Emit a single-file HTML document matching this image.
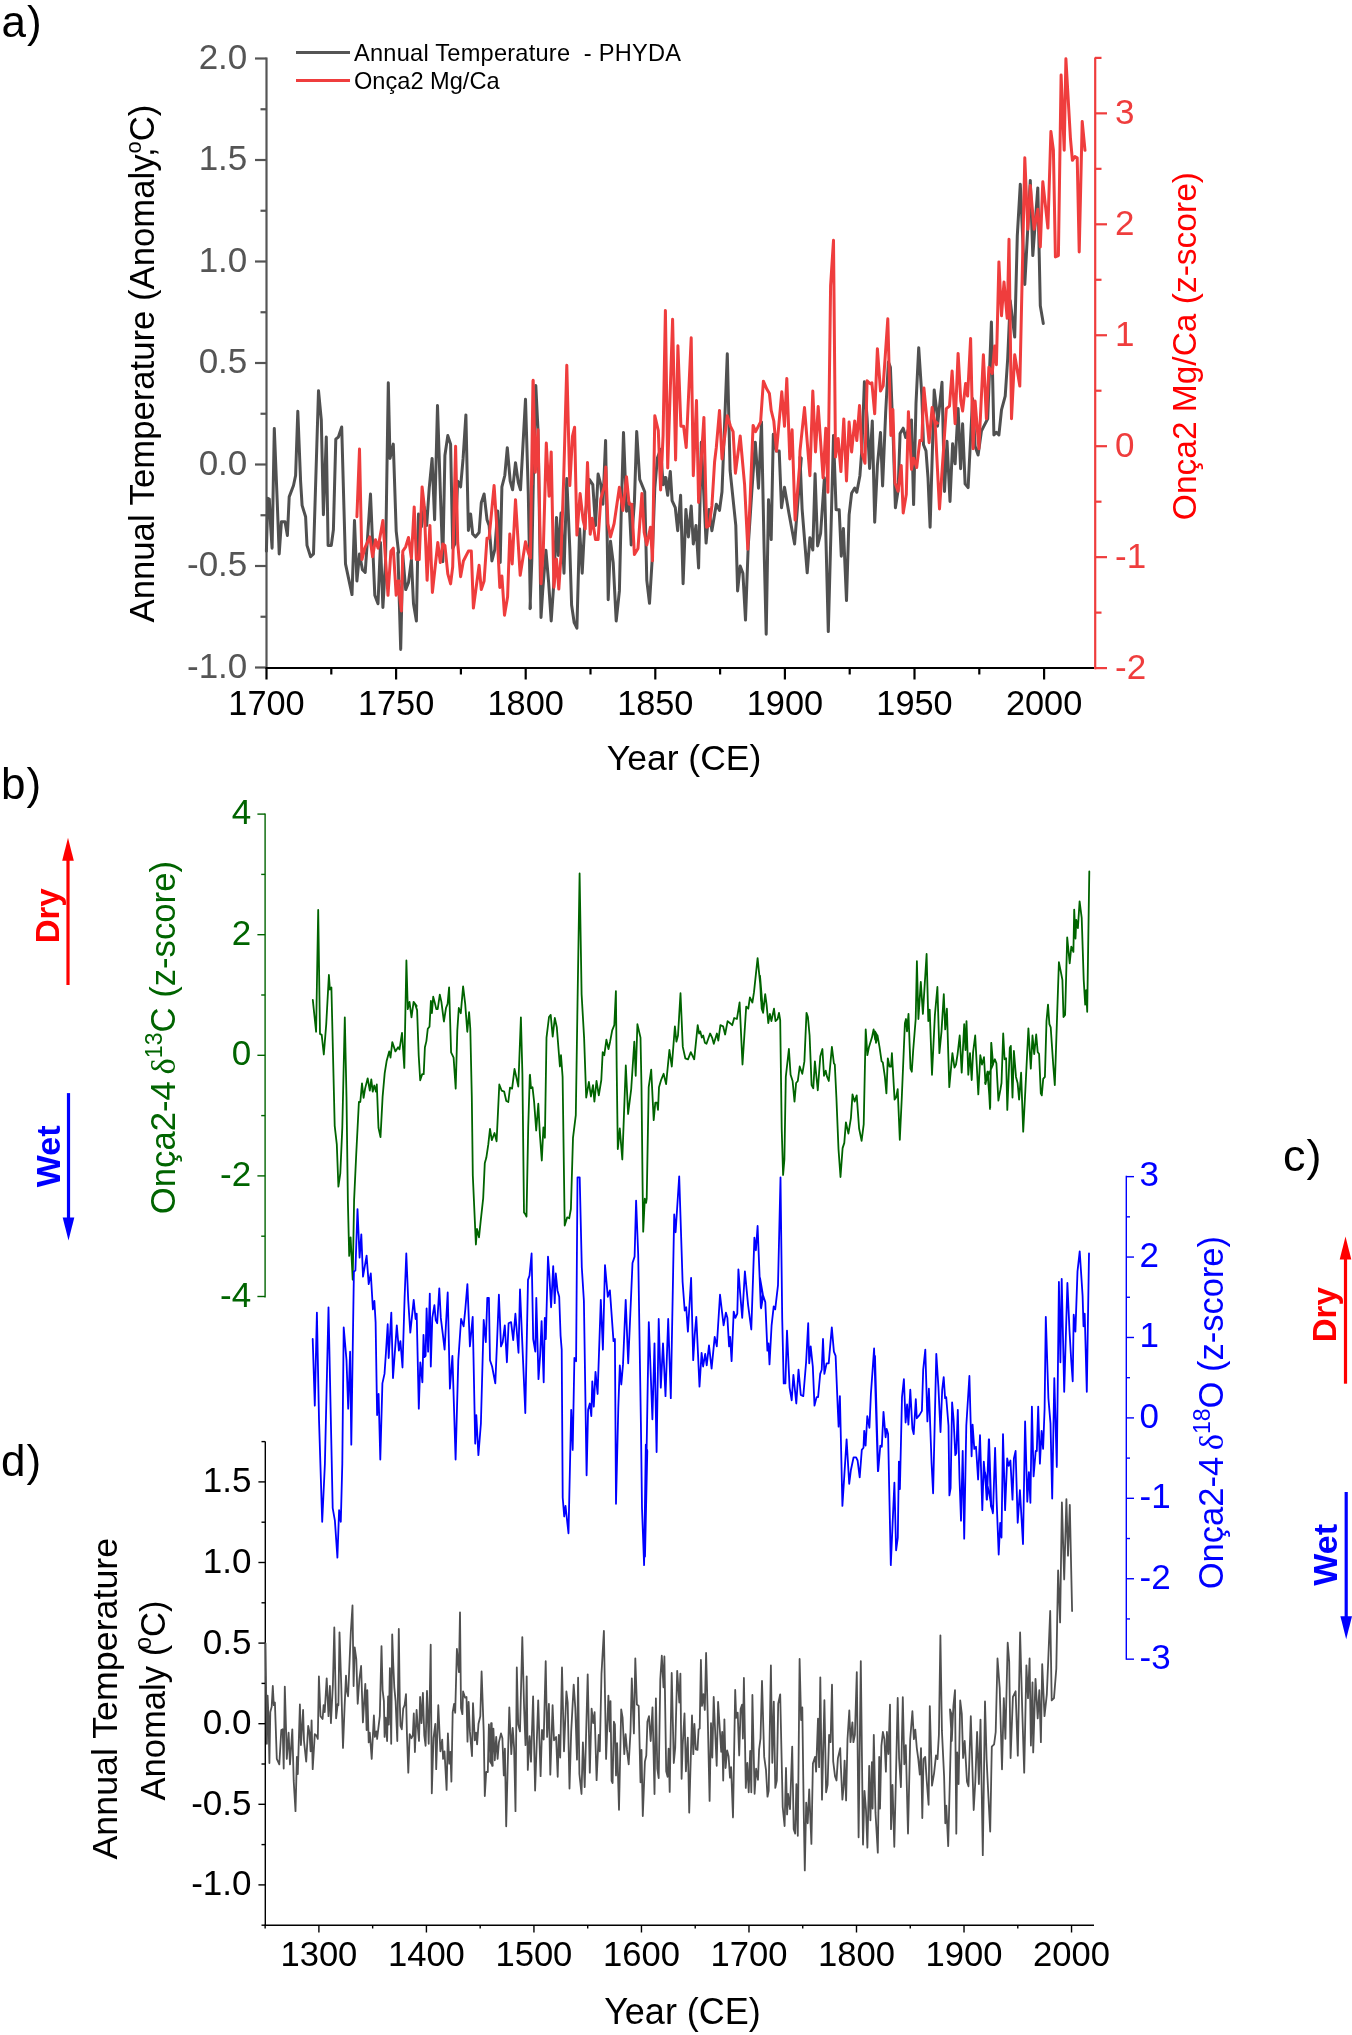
<!DOCTYPE html>
<html><head><meta charset="utf-8"><style>
html,body{margin:0;padding:0;background:#fff;}
svg{display:block;will-change:transform;}
</style></head><body>
<svg width="1352" height="2035" viewBox="0 0 1352 2035" font-family="Liberation Sans, sans-serif" xml:space="preserve">
<rect x="0" y="0" width="1352" height="2035" fill="#fff"/>
<text x="1.5" y="36.5" font-size="44" fill="#000" text-anchor="start" font-weight="normal">a<tspan dx="1">)</tspan></text>
<line x1="266.50" y1="57.50" x2="266.50" y2="668.50" stroke="#555555" stroke-width="2.2"/>
<line x1="255.00" y1="58.50" x2="266.50" y2="58.50" stroke="#555555" stroke-width="2.2"/>
<text x="247.3" y="68.8" font-size="35" fill="#555555" text-anchor="end" font-weight="normal">2.0</text>
<line x1="260.50" y1="109.25" x2="266.50" y2="109.25" stroke="#555555" stroke-width="2.2"/>
<line x1="255.00" y1="160.00" x2="266.50" y2="160.00" stroke="#555555" stroke-width="2.2"/>
<text x="247.3" y="170.3" font-size="35" fill="#555555" text-anchor="end" font-weight="normal">1.5</text>
<line x1="260.50" y1="210.75" x2="266.50" y2="210.75" stroke="#555555" stroke-width="2.2"/>
<line x1="255.00" y1="261.50" x2="266.50" y2="261.50" stroke="#555555" stroke-width="2.2"/>
<text x="247.3" y="271.8" font-size="35" fill="#555555" text-anchor="end" font-weight="normal">1.0</text>
<line x1="260.50" y1="312.25" x2="266.50" y2="312.25" stroke="#555555" stroke-width="2.2"/>
<line x1="255.00" y1="363.00" x2="266.50" y2="363.00" stroke="#555555" stroke-width="2.2"/>
<text x="247.3" y="373.3" font-size="35" fill="#555555" text-anchor="end" font-weight="normal">0.5</text>
<line x1="260.50" y1="413.75" x2="266.50" y2="413.75" stroke="#555555" stroke-width="2.2"/>
<line x1="255.00" y1="464.50" x2="266.50" y2="464.50" stroke="#555555" stroke-width="2.2"/>
<text x="247.3" y="474.8" font-size="35" fill="#555555" text-anchor="end" font-weight="normal">0.0</text>
<line x1="260.50" y1="515.25" x2="266.50" y2="515.25" stroke="#555555" stroke-width="2.2"/>
<line x1="255.00" y1="566.00" x2="266.50" y2="566.00" stroke="#555555" stroke-width="2.2"/>
<text x="247.3" y="576.3" font-size="35" fill="#555555" text-anchor="end" font-weight="normal">-0.5</text>
<line x1="260.50" y1="616.75" x2="266.50" y2="616.75" stroke="#555555" stroke-width="2.2"/>
<line x1="255.00" y1="667.50" x2="266.50" y2="667.50" stroke="#555555" stroke-width="2.2"/>
<text x="247.3" y="677.8" font-size="35" fill="#555555" text-anchor="end" font-weight="normal">-1.0</text>
<text x="154.4" y="363.5" font-size="34.7" fill="#000" text-anchor="middle" font-weight="normal" transform="rotate(-90 154.4 363.5)">Annual Temperature (Anomaly,<tspan font-size="22" dy="-13.5" dx="-6">o</tspan><tspan dy="13.5">C)</tspan></text>
<line x1="265.50" y1="668.00" x2="1094.00" y2="668.00" stroke="#000" stroke-width="2.2"/>
<line x1="266.50" y1="668.00" x2="266.50" y2="679.50" stroke="#000" stroke-width="2.2"/>
<text x="266.5" y="714.5" font-size="34.3" fill="#000" text-anchor="middle" font-weight="normal">1700</text>
<line x1="331.30" y1="668.00" x2="331.30" y2="674.50" stroke="#000" stroke-width="2.2"/>
<line x1="396.10" y1="668.00" x2="396.10" y2="679.50" stroke="#000" stroke-width="2.2"/>
<text x="396.1" y="714.5" font-size="34.3" fill="#000" text-anchor="middle" font-weight="normal">1750</text>
<line x1="460.90" y1="668.00" x2="460.90" y2="674.50" stroke="#000" stroke-width="2.2"/>
<line x1="525.70" y1="668.00" x2="525.70" y2="679.50" stroke="#000" stroke-width="2.2"/>
<text x="525.7" y="714.5" font-size="34.3" fill="#000" text-anchor="middle" font-weight="normal">1800</text>
<line x1="590.50" y1="668.00" x2="590.50" y2="674.50" stroke="#000" stroke-width="2.2"/>
<line x1="655.30" y1="668.00" x2="655.30" y2="679.50" stroke="#000" stroke-width="2.2"/>
<text x="655.3" y="714.5" font-size="34.3" fill="#000" text-anchor="middle" font-weight="normal">1850</text>
<line x1="720.10" y1="668.00" x2="720.10" y2="674.50" stroke="#000" stroke-width="2.2"/>
<line x1="784.90" y1="668.00" x2="784.90" y2="679.50" stroke="#000" stroke-width="2.2"/>
<text x="784.9" y="714.5" font-size="34.3" fill="#000" text-anchor="middle" font-weight="normal">1900</text>
<line x1="849.70" y1="668.00" x2="849.70" y2="674.50" stroke="#000" stroke-width="2.2"/>
<line x1="914.50" y1="668.00" x2="914.50" y2="679.50" stroke="#000" stroke-width="2.2"/>
<text x="914.5" y="714.5" font-size="34.3" fill="#000" text-anchor="middle" font-weight="normal">1950</text>
<line x1="979.30" y1="668.00" x2="979.30" y2="674.50" stroke="#000" stroke-width="2.2"/>
<line x1="1044.10" y1="668.00" x2="1044.10" y2="679.50" stroke="#000" stroke-width="2.2"/>
<text x="1044.1" y="714.5" font-size="34.3" fill="#000" text-anchor="middle" font-weight="normal">2000</text>
<text x="684.0" y="769.5" font-size="35.5" fill="#000" text-anchor="middle" font-weight="normal">Year (CE)</text>
<line x1="1095.20" y1="57.50" x2="1095.20" y2="669.20" stroke="#ef3d3d" stroke-width="2.2"/>
<line x1="1095.00" y1="668.10" x2="1107.00" y2="668.10" stroke="#ef3d3d" stroke-width="2.2"/>
<text x="1115.0" y="678.6" font-size="35" fill="#ef3d3d" text-anchor="start" font-weight="normal">-2</text>
<line x1="1095.00" y1="557.15" x2="1107.00" y2="557.15" stroke="#ef3d3d" stroke-width="2.2"/>
<text x="1115.0" y="567.6" font-size="35" fill="#ef3d3d" text-anchor="start" font-weight="normal">-1</text>
<line x1="1095.00" y1="446.20" x2="1107.00" y2="446.20" stroke="#ef3d3d" stroke-width="2.2"/>
<text x="1115.0" y="456.7" font-size="35" fill="#ef3d3d" text-anchor="start" font-weight="normal">0</text>
<line x1="1095.00" y1="335.25" x2="1107.00" y2="335.25" stroke="#ef3d3d" stroke-width="2.2"/>
<text x="1115.0" y="345.8" font-size="35" fill="#ef3d3d" text-anchor="start" font-weight="normal">1</text>
<line x1="1095.00" y1="224.30" x2="1107.00" y2="224.30" stroke="#ef3d3d" stroke-width="2.2"/>
<text x="1115.0" y="234.8" font-size="35" fill="#ef3d3d" text-anchor="start" font-weight="normal">2</text>
<line x1="1095.00" y1="113.35" x2="1107.00" y2="113.35" stroke="#ef3d3d" stroke-width="2.2"/>
<text x="1115.0" y="123.8" font-size="35" fill="#ef3d3d" text-anchor="start" font-weight="normal">3</text>
<line x1="1095.00" y1="612.62" x2="1101.50" y2="612.62" stroke="#ef3d3d" stroke-width="2.2"/>
<line x1="1095.00" y1="501.68" x2="1101.50" y2="501.68" stroke="#ef3d3d" stroke-width="2.2"/>
<line x1="1095.00" y1="390.72" x2="1101.50" y2="390.72" stroke="#ef3d3d" stroke-width="2.2"/>
<line x1="1095.00" y1="279.77" x2="1101.50" y2="279.77" stroke="#ef3d3d" stroke-width="2.2"/>
<line x1="1095.00" y1="168.82" x2="1101.50" y2="168.82" stroke="#ef3d3d" stroke-width="2.2"/>
<line x1="1095.00" y1="57.88" x2="1101.50" y2="57.88" stroke="#ef3d3d" stroke-width="2.2"/>
<text x="1196.4" y="346.1" font-size="33.5" fill="#ff0000" text-anchor="middle" font-weight="normal" transform="rotate(-90 1196.4 346.1)">Onça2 Mg/Ca (z-score)</text>
<line x1="296.00" y1="52.60" x2="350.00" y2="52.60" stroke="#555555" stroke-width="3"/>
<line x1="296.00" y1="80.60" x2="350.00" y2="80.60" stroke="#ef3d3d" stroke-width="3"/>
<text x="354.0" y="60.6" font-size="23.6" fill="#000" text-anchor="start" font-weight="normal" textLength="327">Annual Temperature &#160;- PHYDA</text>
<text x="354.0" y="88.6" font-size="23.6" fill="#000" text-anchor="start" font-weight="normal">Onça2 Mg/Ca</text>
<text x="1.0" y="799.0" font-size="44" fill="#000" text-anchor="start" font-weight="normal">b<tspan dx="1">)</tspan></text>
<line x1="265.10" y1="813.50" x2="265.10" y2="1297.50" stroke="#006400" stroke-width="1.4"/>
<line x1="257.40" y1="814.10" x2="265.10" y2="814.10" stroke="#006400" stroke-width="1.4"/>
<text x="251.2" y="824.1" font-size="35" fill="#006400" text-anchor="end" font-weight="normal">4</text>
<line x1="257.40" y1="934.70" x2="265.10" y2="934.70" stroke="#006400" stroke-width="1.4"/>
<text x="251.2" y="944.7" font-size="35" fill="#006400" text-anchor="end" font-weight="normal">2</text>
<line x1="257.40" y1="1055.30" x2="265.10" y2="1055.30" stroke="#006400" stroke-width="1.4"/>
<text x="251.2" y="1065.3" font-size="35" fill="#006400" text-anchor="end" font-weight="normal">0</text>
<line x1="257.40" y1="1175.90" x2="265.10" y2="1175.90" stroke="#006400" stroke-width="1.4"/>
<text x="251.2" y="1185.9" font-size="35" fill="#006400" text-anchor="end" font-weight="normal">-2</text>
<line x1="257.40" y1="1296.50" x2="265.10" y2="1296.50" stroke="#006400" stroke-width="1.4"/>
<text x="251.2" y="1306.5" font-size="35" fill="#006400" text-anchor="end" font-weight="normal">-4</text>
<line x1="261.20" y1="874.40" x2="265.10" y2="874.40" stroke="#006400" stroke-width="1.4"/>
<line x1="261.20" y1="995.00" x2="265.10" y2="995.00" stroke="#006400" stroke-width="1.4"/>
<line x1="261.20" y1="1115.60" x2="265.10" y2="1115.60" stroke="#006400" stroke-width="1.4"/>
<line x1="261.20" y1="1236.20" x2="265.10" y2="1236.20" stroke="#006400" stroke-width="1.4"/>
<text x="175.5" y="1037.6" font-size="34.7" fill="#006400" text-anchor="middle" font-weight="normal" transform="rotate(-90 175.5 1037.6)">Onça2-4 <tspan font-family="Liberation Serif, serif" dx="-3">δ</tspan><tspan font-size="23" dy="-13">13</tspan><tspan dy="13">C (z-score)</tspan></text>
<text x="1283.0" y="1171.0" font-size="45" fill="#000" text-anchor="start" font-weight="normal">c<tspan dx="1">)</tspan></text>
<line x1="1126.30" y1="1175.80" x2="1126.30" y2="1659.70" stroke="#0000ff" stroke-width="1.4"/>
<line x1="1126.30" y1="1659.16" x2="1134.00" y2="1659.16" stroke="#0000ff" stroke-width="1.4"/>
<text x="1139.5" y="1669.0" font-size="35" fill="#0000ff" text-anchor="start" font-weight="normal">-3</text>
<line x1="1126.30" y1="1578.74" x2="1134.00" y2="1578.74" stroke="#0000ff" stroke-width="1.4"/>
<text x="1139.5" y="1588.5" font-size="35" fill="#0000ff" text-anchor="start" font-weight="normal">-2</text>
<line x1="1126.30" y1="1498.32" x2="1134.00" y2="1498.32" stroke="#0000ff" stroke-width="1.4"/>
<text x="1139.5" y="1508.1" font-size="35" fill="#0000ff" text-anchor="start" font-weight="normal">-1</text>
<line x1="1126.30" y1="1417.90" x2="1134.00" y2="1417.90" stroke="#0000ff" stroke-width="1.4"/>
<text x="1139.5" y="1427.7" font-size="35" fill="#0000ff" text-anchor="start" font-weight="normal">0</text>
<line x1="1126.30" y1="1337.48" x2="1134.00" y2="1337.48" stroke="#0000ff" stroke-width="1.4"/>
<text x="1139.5" y="1347.3" font-size="35" fill="#0000ff" text-anchor="start" font-weight="normal">1</text>
<line x1="1126.30" y1="1257.06" x2="1134.00" y2="1257.06" stroke="#0000ff" stroke-width="1.4"/>
<text x="1139.5" y="1266.9" font-size="35" fill="#0000ff" text-anchor="start" font-weight="normal">2</text>
<line x1="1126.30" y1="1176.64" x2="1134.00" y2="1176.64" stroke="#0000ff" stroke-width="1.4"/>
<text x="1139.5" y="1186.4" font-size="35" fill="#0000ff" text-anchor="start" font-weight="normal">3</text>
<line x1="1126.30" y1="1618.95" x2="1130.00" y2="1618.95" stroke="#0000ff" stroke-width="1.4"/>
<line x1="1126.30" y1="1538.53" x2="1130.00" y2="1538.53" stroke="#0000ff" stroke-width="1.4"/>
<line x1="1126.30" y1="1458.11" x2="1130.00" y2="1458.11" stroke="#0000ff" stroke-width="1.4"/>
<line x1="1126.30" y1="1377.69" x2="1130.00" y2="1377.69" stroke="#0000ff" stroke-width="1.4"/>
<line x1="1126.30" y1="1297.27" x2="1130.00" y2="1297.27" stroke="#0000ff" stroke-width="1.4"/>
<line x1="1126.30" y1="1216.85" x2="1130.00" y2="1216.85" stroke="#0000ff" stroke-width="1.4"/>
<text x="1222.7" y="1412.6" font-size="34.5" fill="#0000ff" text-anchor="middle" font-weight="normal" transform="rotate(-90 1222.7 1412.6)">Onça2-4 <tspan font-family="Liberation Serif, serif" dx="-3">δ</tspan><tspan font-size="23" dy="-13">18</tspan><tspan dy="13">O (z-score)</tspan></text>
<text x="1.0" y="1476.0" font-size="44" fill="#000" text-anchor="start" font-weight="normal">d<tspan dx="1">)</tspan></text>
<line x1="265.30" y1="1441.50" x2="265.30" y2="1925.00" stroke="#000" stroke-width="1.4"/>
<line x1="258.40" y1="1481.90" x2="265.30" y2="1481.90" stroke="#000" stroke-width="1.4"/>
<text x="251.5" y="1492.4" font-size="35" fill="#000" text-anchor="end" font-weight="normal">1.5</text>
<line x1="258.40" y1="1562.50" x2="265.30" y2="1562.50" stroke="#000" stroke-width="1.4"/>
<text x="251.5" y="1573.0" font-size="35" fill="#000" text-anchor="end" font-weight="normal">1.0</text>
<line x1="258.40" y1="1643.10" x2="265.30" y2="1643.10" stroke="#000" stroke-width="1.4"/>
<text x="251.5" y="1653.6" font-size="35" fill="#000" text-anchor="end" font-weight="normal">0.5</text>
<line x1="258.40" y1="1723.70" x2="265.30" y2="1723.70" stroke="#000" stroke-width="1.4"/>
<text x="251.5" y="1734.2" font-size="35" fill="#000" text-anchor="end" font-weight="normal">0.0</text>
<line x1="258.40" y1="1804.30" x2="265.30" y2="1804.30" stroke="#000" stroke-width="1.4"/>
<text x="251.5" y="1814.8" font-size="35" fill="#000" text-anchor="end" font-weight="normal">-0.5</text>
<line x1="258.40" y1="1884.90" x2="265.30" y2="1884.90" stroke="#000" stroke-width="1.4"/>
<text x="251.5" y="1895.4" font-size="35" fill="#000" text-anchor="end" font-weight="normal">-1.0</text>
<line x1="261.50" y1="1441.60" x2="265.30" y2="1441.60" stroke="#000" stroke-width="1.4"/>
<line x1="261.50" y1="1522.20" x2="265.30" y2="1522.20" stroke="#000" stroke-width="1.4"/>
<line x1="261.50" y1="1602.80" x2="265.30" y2="1602.80" stroke="#000" stroke-width="1.4"/>
<line x1="261.50" y1="1683.40" x2="265.30" y2="1683.40" stroke="#000" stroke-width="1.4"/>
<line x1="261.50" y1="1764.00" x2="265.30" y2="1764.00" stroke="#000" stroke-width="1.4"/>
<line x1="261.50" y1="1844.60" x2="265.30" y2="1844.60" stroke="#000" stroke-width="1.4"/>
<line x1="261.50" y1="1925.20" x2="265.30" y2="1925.20" stroke="#000" stroke-width="1.4"/>
<text x="116.8" y="1698.7" font-size="35.8" fill="#000" text-anchor="middle" font-weight="normal" transform="rotate(-90 116.8 1698.7)">Annual Temperature</text>
<text x="164.8" y="1700.5" font-size="34.6" fill="#000" text-anchor="middle" font-weight="normal" transform="rotate(-90 164.8 1700.5)">Anomaly (<tspan font-size="23" dy="-14" dx="-5">o</tspan><tspan dy="14">C)</tspan></text>
<line x1="264.60" y1="1925.30" x2="1094.00" y2="1925.30" stroke="#000" stroke-width="1.5"/>
<line x1="265.14" y1="1925.00" x2="265.14" y2="1928.50" stroke="#000" stroke-width="1.4"/>
<line x1="318.90" y1="1925.00" x2="318.90" y2="1932.50" stroke="#000" stroke-width="1.4"/>
<text x="318.9" y="1965.5" font-size="34.6" fill="#000" text-anchor="middle" font-weight="normal">1300</text>
<line x1="372.66" y1="1925.00" x2="372.66" y2="1928.50" stroke="#000" stroke-width="1.4"/>
<line x1="426.42" y1="1925.00" x2="426.42" y2="1932.50" stroke="#000" stroke-width="1.4"/>
<text x="426.4" y="1965.5" font-size="34.6" fill="#000" text-anchor="middle" font-weight="normal">1400</text>
<line x1="480.18" y1="1925.00" x2="480.18" y2="1928.50" stroke="#000" stroke-width="1.4"/>
<line x1="533.94" y1="1925.00" x2="533.94" y2="1932.50" stroke="#000" stroke-width="1.4"/>
<text x="533.9" y="1965.5" font-size="34.6" fill="#000" text-anchor="middle" font-weight="normal">1500</text>
<line x1="587.70" y1="1925.00" x2="587.70" y2="1928.50" stroke="#000" stroke-width="1.4"/>
<line x1="641.46" y1="1925.00" x2="641.46" y2="1932.50" stroke="#000" stroke-width="1.4"/>
<text x="641.5" y="1965.5" font-size="34.6" fill="#000" text-anchor="middle" font-weight="normal">1600</text>
<line x1="695.22" y1="1925.00" x2="695.22" y2="1928.50" stroke="#000" stroke-width="1.4"/>
<line x1="748.98" y1="1925.00" x2="748.98" y2="1932.50" stroke="#000" stroke-width="1.4"/>
<text x="749.0" y="1965.5" font-size="34.6" fill="#000" text-anchor="middle" font-weight="normal">1700</text>
<line x1="802.74" y1="1925.00" x2="802.74" y2="1928.50" stroke="#000" stroke-width="1.4"/>
<line x1="856.50" y1="1925.00" x2="856.50" y2="1932.50" stroke="#000" stroke-width="1.4"/>
<text x="856.5" y="1965.5" font-size="34.6" fill="#000" text-anchor="middle" font-weight="normal">1800</text>
<line x1="910.26" y1="1925.00" x2="910.26" y2="1928.50" stroke="#000" stroke-width="1.4"/>
<line x1="964.02" y1="1925.00" x2="964.02" y2="1932.50" stroke="#000" stroke-width="1.4"/>
<text x="964.0" y="1965.5" font-size="34.6" fill="#000" text-anchor="middle" font-weight="normal">1900</text>
<line x1="1017.78" y1="1925.00" x2="1017.78" y2="1928.50" stroke="#000" stroke-width="1.4"/>
<line x1="1071.54" y1="1925.00" x2="1071.54" y2="1932.50" stroke="#000" stroke-width="1.4"/>
<text x="1071.5" y="1965.5" font-size="34.6" fill="#000" text-anchor="middle" font-weight="normal">2000</text>
<text x="682.5" y="2023.5" font-size="36" fill="#000" text-anchor="middle" font-weight="normal">Year (CE)</text>
<line x1="68.00" y1="859.70" x2="68.00" y2="985.00" stroke="#ff0000" stroke-width="3.2"/>
<polygon points="68.0,837.7 62.2,860.7 73.8,860.7" fill="#ff0000"/>
<line x1="68.50" y1="1093.10" x2="68.50" y2="1218.60" stroke="#0000ff" stroke-width="3.2"/>
<polygon points="68.5,1240.6 62.7,1217.6 74.3,1217.6" fill="#0000ff"/>
<text x="58.7" y="915.8" font-size="33" fill="#ff0000" text-anchor="middle" font-weight="bold" transform="rotate(-90 58.7 915.8)">Dry</text>
<text x="59.8" y="1156.3" font-size="34" fill="#0000ff" text-anchor="middle" font-weight="bold" transform="rotate(-90 59.8 1156.3)">Wet</text>
<line x1="1345.50" y1="1258.40" x2="1345.50" y2="1383.70" stroke="#ff0000" stroke-width="3.2"/>
<polygon points="1345.5,1236.4 1339.7,1259.4 1351.3,1259.4" fill="#ff0000"/>
<line x1="1346.20" y1="1492.00" x2="1346.20" y2="1617.30" stroke="#0000ff" stroke-width="3.2"/>
<polygon points="1346.2,1639.3 1340.4,1616.3 1352.0,1616.3" fill="#0000ff"/>
<text x="1336.0" y="1314.7" font-size="33" fill="#ff0000" text-anchor="middle" font-weight="bold" transform="rotate(-90 1336 1314.7)">Dry</text>
<text x="1337.3" y="1554.8" font-size="34" fill="#0000ff" text-anchor="middle" font-weight="bold" transform="rotate(-90 1337.3 1554.8)">Wet</text>
<polyline points="312.8,999.8 316.1,1031.8 318.2,909.9 320.0,1033.9 321.7,1034.9 323.8,1054.5 326.2,1024.6 328.9,975.0 329.9,989.5 331.4,987.4 334.7,1125.8 336.8,1144.4 338.4,1186.7 340.3,1173.3 342.3,1127.8 344.8,1017.3 346.5,1096.9 347.9,1202.2 349.2,1255.9 350.6,1237.3 352.7,1279.6 354.1,1200.1 356.2,1154.7 358.9,1102.0 360.3,1102.0 362.0,1083.4 363.6,1097.9 365.1,1088.6 367.7,1078.3 369.8,1090.7 371.3,1079.3 372.7,1091.7 374.3,1085.5 376.0,1091.7 376.8,1084.5 378.5,1127.8 380.5,1137.1 382.6,1096.9 384.7,1073.1 386.7,1060.7 389.2,1051.4 390.5,1057.6 392.3,1042.1 395.4,1051.4 398.1,1047.3 399.5,1049.4 402.0,1032.8 404.3,1067.9 406.4,960.5 407.8,1009.1 409.5,1001.9 411.5,1017.3 413.6,1001.9 416.7,1006.0 415.0,1003.9 417.1,1010.1 418.7,1055.5 420.2,1080.3 422.2,1074.1 423.7,1074.1 424.9,1047.3 426.4,1041.1 427.8,1028.7 429.5,1026.6 430.9,1000.8 431.9,1013.2 433.2,996.7 434.6,1001.9 436.3,1009.1 437.7,1009.1 439.8,994.6 441.4,1001.9 443.9,1021.5 446.0,1008.0 447.6,1003.9 449.1,987.4 451.1,1052.4 453.6,1057.6 455.7,1088.6 457.3,1030.8 458.8,1008.0 460.8,1013.2 463.1,986.4 465.2,1003.9 467.3,1031.8 469.1,1012.2 470.3,1028.7 471.8,1096.9 472.8,1175.3 475.9,1244.5 477.0,1229.0 479.0,1237.3 480.7,1220.8 483.2,1198.1 484.8,1162.9 486.3,1157.8 488.3,1144.4 490.0,1128.9 491.8,1140.2 494.5,1133.0 496.6,1141.3 499.3,1084.5 501.7,1090.7 504.2,1091.7 506.3,1101.0 508.3,1102.0 510.0,1087.6 512.1,1088.6 514.5,1069.0 516.8,1079.3 518.3,1086.5 520.9,1017.3 522.4,1074.1 524.0,1212.5 525.5,1214.6 526.5,1216.6 528.2,1127.8 529.8,1075.2 530.0,1074.8 531.0,1088.2 532.5,1087.2 534.1,1101.6 536.2,1130.5 538.3,1103.7 539.9,1134.7 541.8,1160.5 543.4,1127.5 544.9,1137.8 546.5,1037.6 549.0,1017.0 550.7,1014.9 552.7,1036.6 554.8,1018.0 556.8,1027.3 559.9,1066.5 561.0,1055.2 562.6,1076.9 564.7,1225.6 567.2,1217.3 569.2,1218.3 570.9,1209.0 573.0,1137.8 575.8,1115.1 577.5,1004.6 579.6,873.4 581.6,994.2 584.1,1037.6 586.2,1097.5 588.9,1082.0 590.9,1096.5 593.0,1085.1 594.4,1101.6 596.5,1081.0 598.8,1095.4 601.3,1080.0 602.7,1052.1 604.3,1055.2 606.4,1039.7 608.5,1049.0 610.1,1041.7 612.2,1030.4 614.3,1025.2 615.9,991.1 616.7,1068.6 617.8,1149.1 619.8,1128.5 622.3,1159.5 624.0,1114.0 625.8,1065.5 628.1,1114.0 631.2,1089.2 634.3,1041.7 635.7,1075.8 637.4,1024.2 640.5,1037.6 641.5,1087.2 642.6,1186.3 643.2,1231.7 644.8,1198.7 646.1,1202.8 646.7,1198.7 648.7,1087.2 651.2,1069.6 653.7,1120.2 655.3,1102.7 657.0,1102.7 658.0,1109.9 659.0,1087.2 661.1,1080.0 663.6,1073.8 666.1,1084.1 669.4,1050.0 671.8,1066.5 674.9,1026.3 676.4,1041.7 678.0,1035.5 680.5,993.2 682.8,1046.9 685.3,1058.3 688.0,1059.3 690.8,1052.1 694.2,1059.3 697.7,1025.2 699.1,1033.5 700.3,1031.4 701.8,1037.6 703.2,1035.5 704.9,1042.8 706.5,1043.8 710.1,1033.5 712.1,1037.6 713.8,1043.8 716.9,1033.5 718.3,1040.7 720.4,1025.2 723.1,1026.3 725.1,1034.5 727.6,1021.1 730.1,1023.2 732.2,1025.2 734.2,1018.0 736.9,1019.0 739.6,1002.5 742.5,1064.5 746.2,1006.6 748.3,1008.7 749.9,997.3 752.4,1002.5 754.0,992.2 757.6,958.1 760.2,983.9 761.7,1008.7 763.1,1012.8 760.0,975.7 761.0,1000.4 763.1,1012.8 765.2,994.2 766.6,1004.6 768.3,1023.2 769.9,1013.9 771.4,1021.1 774.0,1008.7 775.5,1021.1 777.6,1019.0 779.0,1012.8 780.2,1020.1 781.7,1128.5 783.1,1175.0 784.4,1159.5 785.8,1076.9 788.9,1049.0 790.6,1074.8 792.6,1081.0 794.5,1101.6 796.1,1083.0 797.8,1081.0 799.7,1066.5 802.3,1073.8 804.4,1061.4 806.5,1012.8 807.9,1017.0 809.6,1035.5 811.6,1085.1 813.3,1088.2 814.9,1061.4 817.8,1090.3 820.3,1056.2 822.4,1049.0 824.0,1075.8 825.7,1070.7 827.1,1076.9 828.8,1081.0 831.9,1046.9 833.9,1063.4 834.8,1064.5 836.4,1097.5 838.5,1149.1 840.5,1177.0 842.6,1148.1 844.3,1142.9 845.9,1122.3 848.4,1133.6 850.9,1118.2 852.5,1094.4 854.6,1101.6 856.7,1095.4 859.1,1128.5 861.6,1140.9 863.7,1124.4 865.7,1029.4 867.4,1055.2 869.0,1046.9 871.9,1037.6 873.6,1029.4 875.2,1039.7 877.3,1035.5 875.0,1031.4 876.0,1042.8 877.5,1035.5 879.5,1046.9 881.6,1061.4 882.8,1062.4 884.9,1076.9 886.4,1093.4 887.8,1058.3 889.5,1066.5 891.1,1066.5 891.9,1053.1 894.6,1099.6 896.1,1097.5 897.7,1089.2 899.8,1139.8 901.8,1097.5 904.9,1023.2 906.0,1019.0 907.0,1031.4 908.5,1013.9 910.5,1068.6 911.8,1071.7 913.2,1050.0 915.7,1019.0 916.9,961.2 918.4,1019.0 920.8,981.9 922.9,1013.9 926.6,954.0 928.3,1021.1 929.7,1009.7 932.0,1074.8 934.9,1014.9 937.4,987.0 939.4,1053.1 941.5,1031.4 943.8,994.2 945.2,1029.4 946.9,1008.7 949.3,1087.2 952.4,1053.1 954.5,1067.6 956.0,1064.5 957.6,1054.1 959.7,1035.5 961.7,1072.7 964.2,1024.2 965.5,1050.0 966.5,1021.1 968.3,1074.8 970.0,1053.1 971.7,1080.0 973.1,1052.1 975.2,1035.5 978.3,1094.4 980.3,1055.2 982.0,1064.5 984.0,1057.2 985.5,1084.1 988.0,1071.7 990.0,1108.9 991.3,1042.8 993.1,1064.5 985.0,1083.0 987.5,1071.7 990.2,1107.8 991.2,1042.8 992.8,1064.5 994.9,1059.3 996.4,1063.4 998.4,1100.6 1000.5,1089.2 1001.5,1083.0 1003.2,1033.5 1004.6,1059.3 1006.1,1058.3 1007.3,1109.9 1009.8,1047.9 1010.8,1045.9 1012.5,1097.5 1013.9,1051.0 1016.0,1076.9 1017.6,1083.0 1019.1,1099.6 1021.1,1072.7 1023.2,1131.6 1025.3,1091.3 1028.4,1028.3 1030.8,1068.6 1032.5,1035.5 1034.2,1054.1 1036.2,1034.5 1037.7,1052.1 1039.1,1054.1 1040.8,1093.4 1041.8,1095.4 1043.2,1078.9 1044.9,1076.9 1046.5,1021.1 1048.0,1004.6 1049.4,1024.2 1050.7,1027.3 1053.2,1064.5 1054.8,1085.1 1056.9,1022.1 1058.9,962.2 1061.0,972.6 1062.4,979.8 1063.5,1017.0 1065.1,1014.9 1067.2,937.4 1069.7,963.3 1071.3,946.7 1073.4,951.9 1074.2,909.6 1075.5,938.5 1076.3,919.9 1077.9,928.2 1079.6,901.3 1081.7,917.8 1083.7,979.8 1085.2,1004.6 1086.2,990.1 1087.2,1011.8 1089.3,871.4" fill="none" stroke="#006400" stroke-width="1.8" stroke-linejoin="round" stroke-linecap="round"/>
<polyline points="312.7,1339.0 314.8,1405.6 316.9,1312.6 319.0,1419.3 322.2,1521.8 324.9,1463.7 328.5,1307.3 332.7,1508.1 334.9,1520.7 337.4,1557.7 339.1,1510.2 340.8,1521.8 342.3,1463.7 343.7,1327.4 346.5,1360.2 348.2,1408.7 350.1,1351.7 351.3,1444.7 353.9,1271.4 355.4,1270.4 357.5,1209.1 359.6,1257.7 361.3,1234.4 363.0,1276.7 366.6,1255.6 368.7,1284.1 370.8,1273.5 372.9,1309.4 374.4,1301.0 375.6,1322.1 377.1,1415.1 378.6,1394.0 380.3,1459.5 382.4,1383.4 384.5,1373.9 386.0,1351.7 387.7,1324.2 388.7,1358.0 391.3,1312.6 393.0,1378.1 396.8,1325.3 398.9,1350.6 400.4,1341.1 402.5,1367.5 404.6,1297.8 406.3,1253.5 408.2,1299.9 410.3,1332.7 413.7,1299.9 415.6,1319.0 416.7,1313.7 418.8,1408.7 420.3,1362.3 422.4,1382.3 423.5,1334.8 424.5,1357.0 425.6,1355.9 426.6,1308.4 428.1,1351.7 429.8,1293.6 430.8,1366.5 432.3,1317.9 434.4,1305.2 435.7,1320.0 437.2,1323.2 439.3,1288.3 440.8,1317.9 442.9,1334.8 444.6,1349.6 447.7,1292.5 449.9,1388.7 452.4,1355.9 455.6,1459.5 458.3,1360.2 461.1,1319.0 463.6,1326.3 465.3,1309.4 467.4,1284.1 469.9,1346.4 472.7,1316.8 475.2,1443.6 476.3,1415.1 478.4,1455.2 480.9,1423.5 483.7,1320.0 485.8,1342.2 487.3,1297.8 488.9,1297.8 490.0,1360.2 492.1,1366.5 495.3,1383.4 497.0,1343.3 498.9,1294.7 501.0,1346.4 502.7,1342.2 504.8,1325.3 506.9,1362.3 508.6,1323.2 511.1,1322.1 513.2,1340.1 515.4,1313.7 518.5,1352.8 520.0,1289.4 522.8,1354.9 525.3,1413.0 528.0,1279.9 529.5,1275.6 531.6,1253.5 533.2,1339.0 535.3,1351.7 536.3,1297.8 538.5,1379.2 540.1,1355.9 541.6,1321.1 543.7,1382.3 544.8,1317.9 545.8,1339.0 548.0,1256.6 549.4,1275.6 551.1,1307.3 553.2,1266.1 554.7,1303.1 555.8,1273.5 557.5,1290.4 559.2,1296.8 560.6,1335.9 561.7,1349.6 562.7,1497.5 564.2,1516.5 565.5,1505.9 568.5,1533.4 571.2,1409.8 572.7,1449.9 574.4,1358.0 576.1,1361.2 577.5,1177.4 579.7,1177.4 581.8,1267.2 583.9,1301.0 586.6,1475.3 588.1,1409.8 589.8,1403.5 591.3,1416.1 592.3,1381.3 593.8,1406.6 595.5,1371.8 597.6,1394.0 600.8,1299.9 602.9,1349.6 605.0,1265.1 607.8,1296.8 609.9,1290.4 613.5,1341.1 614.9,1339.0 616.0,1503.8 618.3,1407.7 619.8,1365.4 621.3,1384.5 623.0,1364.4 625.7,1299.9 628.2,1363.3 632.5,1263.0 634.6,1256.6 636.1,1200.6 638.2,1254.5 640.9,1423.5 642.0,1508.1 644.1,1565.1 645.8,1444.7 647.3,1451.0 645.0,1556.6 646.7,1444.7 648.8,1322.1 652.4,1419.3 654.5,1343.3 656.6,1452.1 658.7,1319.0 660.8,1387.6 663.0,1343.3 665.5,1396.1 668.2,1319.0 670.8,1398.2 674.2,1214.4 675.6,1232.3 679.2,1176.3 682.6,1282.0 684.7,1310.5 686.2,1307.3 687.9,1331.6 691.1,1277.8 693.2,1360.2 694.7,1334.8 696.3,1316.8 699.5,1386.6 701.6,1352.8 703.1,1366.5 705.2,1353.8 706.7,1365.4 709.0,1345.4 711.6,1368.6 714.7,1336.9 716.8,1346.4 720.0,1294.7 723.6,1325.3 725.9,1312.6 727.4,1317.9 729.1,1346.4 730.1,1336.9 731.6,1361.2 733.7,1311.6 735.4,1317.9 737.3,1313.7 738.4,1269.3 740.1,1292.5 742.2,1317.9 744.9,1271.4 748.1,1305.2 751.3,1329.5 754.4,1237.6 755.9,1250.3 757.6,1226.0 760.8,1307.3 762.9,1294.7 760.0,1277.8 761.1,1308.4 763.2,1295.7 765.3,1302.1 767.4,1350.6 768.5,1343.3 769.5,1364.4 771.6,1325.3 773.7,1306.3 775.2,1309.4 778.0,1285.1 780.5,1177.4 782.2,1317.9 783.7,1383.4 785.4,1383.4 787.0,1330.6 789.6,1387.6 791.7,1400.3 793.4,1374.9 796.3,1403.5 798.5,1369.7 800.8,1395.0 803.3,1396.1 806.1,1362.3 808.2,1323.2 809.2,1363.3 810.7,1346.4 812.8,1366.5 814.5,1405.6 816.6,1397.1 818.1,1397.1 820.2,1373.9 821.7,1369.7 823.0,1339.0 824.4,1373.9 826.6,1363.3 828.7,1363.3 831.8,1327.4 833.9,1351.7 835.6,1355.9 837.8,1408.7 838.6,1426.7 839.9,1396.1 842.4,1505.9 846.6,1439.4 849.2,1483.8 850.9,1470.0 853.6,1457.3 856.1,1457.3 857.6,1460.5 859.7,1477.4 861.8,1449.9 863.5,1447.8 864.2,1430.9 865.6,1445.7 867.3,1416.1 869.4,1427.8 870.9,1394.0 874.1,1348.5 877.9,1471.1 875.0,1355.9 878.2,1471.1 880.3,1445.7 881.8,1446.8 883.5,1411.9 885.6,1437.3 886.6,1428.8 888.1,1434.1 890.8,1565.1 894.4,1482.7 896.1,1550.3 897.8,1537.6 898.9,1461.6 899.9,1489.0 902.0,1397.1 903.9,1379.2 905.6,1422.5 907.1,1404.5 908.4,1424.6 910.3,1389.7 912.4,1428.8 913.7,1434.1 915.8,1399.2 916.8,1418.3 919.4,1415.1 921.9,1410.9 923.2,1369.7 925.3,1349.6 927.4,1421.4 928.9,1388.7 931.6,1463.7 933.1,1493.3 936.3,1353.8 938.4,1386.6 940.5,1432.0 942.2,1389.7 943.7,1377.1 945.1,1398.2 946.2,1397.1 948.5,1425.7 949.4,1495.4 950.6,1488.0 952.1,1402.4 953.6,1419.3 955.3,1455.2 956.3,1453.1 957.8,1409.8 959.5,1478.5 961.0,1520.7 962.7,1451.0 964.2,1538.7 966.3,1425.7 969.4,1376.0 971.6,1456.3 972.6,1424.6 974.3,1448.9 976.0,1446.8 978.1,1479.5 980.0,1435.2 982.3,1510.2 983.8,1461.6 987.0,1499.6 989.1,1439.4 991.2,1504.9 992.9,1513.3 985.0,1472.1 986.7,1499.6 988.8,1439.4 990.9,1505.9 993.0,1512.3 995.1,1447.8 996.6,1499.6 998.7,1554.5 1000.2,1522.8 1001.5,1537.6 1003.0,1434.1 1005.1,1510.2 1007.2,1458.4 1008.7,1465.8 1010.4,1460.5 1012.5,1499.6 1013.9,1458.4 1015.6,1451.0 1017.7,1522.8 1019.9,1490.1 1023.0,1544.0 1025.1,1421.4 1027.3,1501.7 1028.9,1472.1 1030.4,1502.8 1031.9,1406.6 1033.6,1476.4 1035.7,1451.0 1036.8,1451.0 1038.2,1406.6 1039.9,1463.7 1041.6,1430.9 1043.1,1448.9 1044.6,1408.7 1045.8,1316.8 1048.4,1398.2 1050.5,1423.5 1052.2,1498.5 1054.3,1378.1 1056.8,1466.9 1058.9,1282.0 1060.4,1362.3 1061.7,1278.8 1064.2,1391.8 1067.4,1283.0 1069.5,1330.6 1071.2,1360.2 1072.7,1381.3 1073.7,1314.7 1075.4,1331.6 1077.5,1271.4 1079.7,1251.3 1082.6,1295.7 1083.5,1326.3 1084.7,1313.7 1086.8,1391.8 1089.0,1253.5" fill="none" stroke="#0000ff" stroke-width="1.8" stroke-linejoin="round" stroke-linecap="round"/>
<polyline points="265.5,1643.3 266.2,1695.6 266.9,1743.8 267.6,1695.6 268.5,1717.6 269.4,1763.0 270.3,1712.1 271.7,1706.6 272.8,1686.0 273.8,1705.2 274.9,1702.5 276.8,1758.9 279.3,1764.4 281.3,1730.0 282.7,1729.3 283.7,1768.5 284.8,1686.6 286.1,1731.4 286.8,1758.9 288.6,1732.7 290.0,1764.4 292.3,1729.3 293.7,1780.9 295.5,1811.2 296.9,1756.8 297.8,1774.0 299.9,1704.5 300.9,1745.1 303.1,1710.0 304.0,1741.0 306.2,1761.6 308.2,1725.9 309.5,1732.7 310.6,1751.3 311.6,1720.4 312.7,1769.2 314.8,1734.1 316.4,1735.5 317.8,1738.9 318.9,1676.3 320.5,1716.2 322.6,1719.0 323.6,1705.2 324.7,1712.1 326.7,1678.4 328.5,1716.2 329.9,1686.0 330.9,1723.1 332.9,1684.6 334.3,1627.5 336.1,1718.3 337.7,1703.8 338.4,1705.2 339.5,1632.3 341.2,1683.2 343.0,1747.9 344.6,1706.6 346.0,1675.6 346.7,1690.1 348.1,1696.3 350.8,1632.3 352.5,1605.5 353.6,1686.0 354.7,1647.4 356.3,1659.1 357.7,1703.8 359.4,1679.1 361.1,1666.0 362.9,1722.4 365.3,1683.9 366.6,1730.0 367.3,1690.1 368.7,1742.4 369.8,1732.7 371.7,1758.9 373.9,1715.5 374.9,1736.9 376.3,1731.4 377.2,1738.9 377.1,1738.9 379.8,1716.2 381.5,1646.1 382.6,1690.1 383.9,1701.1 384.6,1736.9 385.7,1717.6 387.1,1741.0 388.1,1696.3 388.8,1724.5 389.9,1668.1 391.2,1743.8 392.2,1634.4 393.2,1662.6 394.3,1687.3 395.6,1701.1 397.3,1741.0 398.8,1628.9 399.8,1702.5 400.5,1725.9 401.8,1729.3 403.2,1708.7 404.6,1705.2 406.0,1694.2 406.9,1732.7 408.3,1772.7 409.7,1734.1 411.5,1738.2 412.8,1735.5 413.8,1713.5 414.9,1752.0 416.6,1710.0 417.7,1725.9 419.0,1741.0 420.1,1697.0 421.5,1723.1 422.9,1692.8 424.3,1735.5 425.6,1745.8 427.0,1690.8 428.7,1743.8 429.8,1694.2 430.7,1644.7 431.8,1793.3 433.5,1738.2 435.3,1723.8 436.2,1769.2 438.3,1705.2 440.4,1751.3 442.2,1739.6 443.1,1758.9 444.5,1751.3 446.6,1789.9 447.9,1733.4 449.3,1763.7 450.4,1752.0 451.4,1781.6 452.7,1712.1 454.1,1703.8 455.2,1712.8 456.9,1648.8 458.9,1672.2 460.0,1612.3 461.0,1708.0 462.4,1714.2 463.1,1691.5 465.1,1697.7 466.5,1697.0 467.5,1741.7 468.6,1701.8 469.9,1731.4 472.0,1756.1 473.0,1703.2 474.8,1740.3 476.1,1732.7 477.1,1744.4 478.5,1723.8 480.3,1716.2 481.6,1671.5 483.7,1731.4 484.8,1796.0 486.2,1772.0 487.8,1772.0 488.9,1724.5 490.6,1761.6 491.7,1723.1 492.7,1765.8 490.0,1761.6 491.1,1723.1 492.1,1765.8 493.4,1728.6 494.8,1760.3 496.2,1736.9 497.6,1758.9 498.9,1742.4 501.0,1733.4 502.4,1738.2 503.8,1775.4 504.9,1748.6 506.2,1826.3 507.6,1769.9 509.3,1707.3 511.3,1754.1 512.7,1727.9 514.1,1747.9 515.5,1811.2 516.8,1667.4 518.2,1724.5 520.0,1731.4 522.3,1637.1 524.1,1708.0 525.5,1745.1 526.7,1676.3 527.8,1769.9 529.6,1736.2 531.0,1761.6 533.1,1696.3 535.1,1790.5 538.2,1700.4 540.6,1776.1 542.0,1730.0 543.7,1739.6 545.7,1661.2 547.1,1736.9 548.9,1703.8 550.3,1774.7 552.6,1705.2 554.0,1740.3 556.1,1736.9 557.7,1776.8 558.8,1734.8 560.2,1757.5 562.0,1667.4 564.0,1751.3 566.4,1691.5 567.7,1702.5 569.5,1788.5 571.2,1731.4 573.7,1684.6 575.3,1708.0 577.0,1759.6 578.1,1677.7 579.4,1774.0 581.5,1794.0 582.9,1742.4 584.7,1787.1 587.7,1674.3 589.8,1772.7 591.6,1708.7 593.2,1723.1 594.6,1712.1 596.6,1780.2 598.7,1734.8 599.8,1751.3 601.5,1673.6 603.9,1630.9 604.9,1690.1 606.1,1758.9 608.4,1695.6 609.8,1731.4 610.5,1701.1 611.6,1780.9 612.6,1783.0 613.9,1721.7 614.9,1724.5 616.0,1775.4 617.1,1743.1 619.0,1809.8 621.2,1709.4 622.6,1717.6 624.3,1754.1 625.6,1734.1 627.0,1749.9 628.7,1764.4 630.5,1731.4 631.8,1678.4 633.9,1733.4 635.3,1658.4 636.9,1704.5 638.7,1705.9 640.5,1782.3 641.5,1749.9 642.8,1816.0 644.9,1761.6 646.3,1755.5 647.4,1721.7 649.0,1716.2 650.7,1741.0 652.5,1707.3 654.5,1794.0 655.9,1698.3 657.3,1768.5 658.7,1778.2 660.3,1679.1 661.8,1655.7 663.5,1687.3 664.4,1656.4 666.2,1771.3 667.6,1776.8 668.6,1748.6 669.7,1791.9 671.7,1672.9 673.8,1763.0 675.2,1747.9 677.2,1670.8 679.3,1702.5 680.4,1673.6 681.6,1778.8 682.7,1745.1 684.5,1713.5 685.9,1771.3 687.8,1737.6 689.2,1812.6 692.0,1715.5 693.3,1754.1 694.4,1723.8 695.8,1749.3 697.5,1749.9 698.6,1729.3 699.7,1728.6 700.9,1659.8 702.0,1705.9 703.4,1694.2 704.8,1710.0 706.1,1652.9 707.5,1705.9 709.6,1800.9 711.0,1723.1 712.3,1757.5 713.7,1697.0 715.1,1730.0 716.7,1765.8 718.1,1701.8 721.2,1751.8 722.2,1731.9 723.2,1780.5 724.4,1719.3 725.6,1768.0 727.1,1750.3 728.6,1756.2 730.0,1777.6 731.1,1767.2 733.0,1817.4 735.2,1689.8 736.2,1717.8 737.7,1712.7 739.2,1755.4 740.6,1709.0 742.1,1704.6 742.9,1738.5 743.9,1678.0 745.8,1787.9 747.3,1762.8 748.7,1792.3 750.2,1751.0 751.3,1792.3 752.4,1695.0 754.6,1793.8 756.1,1768.7 758.0,1779.8 759.1,1749.5 760.5,1738.5 762.0,1681.0 764.2,1756.9 766.0,1770.2 767.5,1796.7 768.7,1790.8 770.9,1665.5 772.3,1762.8 773.8,1701.6 775.3,1787.9 776.8,1780.5 778.2,1703.8 780.2,1694.3 782.7,1807.0 784.6,1826.2 786.0,1768.0 787.1,1814.4 788.1,1793.8 790.0,1809.2 792.2,1746.6 793.7,1829.2 795.2,1833.6 796.4,1784.2 797.8,1835.8 799.6,1658.9 801.1,1720.1 802.3,1707.5 803.7,1810.0 804.8,1870.4 806.2,1802.6 807.7,1823.3 809.2,1789.3 811.4,1843.9 812.9,1763.5 815.1,1756.9 816.1,1771.7 818.0,1718.6 819.1,1767.2 820.3,1677.3 822.0,1799.7 824.4,1700.2 826.1,1792.3 827.6,1784.9 829.1,1734.8 830.6,1742.2 832.0,1684.7 833.2,1761.3 835.0,1776.1 836.5,1780.5 837.9,1758.4 840.2,1748.1 840.9,1767.2 842.4,1799.7 843.6,1786.4 844.6,1760.6 846.1,1800.4 847.5,1739.2 849.3,1710.5 850.5,1742.2 852.4,1722.3 853.4,1742.2 854.9,1734.8 856.8,1672.1 858.6,1837.3 860.8,1661.1 863.0,1844.6 864.5,1790.8 866.0,1810.0 867.4,1847.6 869.2,1765.8 870.4,1820.3 871.9,1762.1 872.6,1808.5 873.8,1734.8 875.5,1812.9 877.8,1852.7 879.2,1756.9 880.0,1808.5 881.4,1745.9 882.9,1731.9 884.4,1739.2 885.9,1771.7 886.9,1731.9 888.4,1754.0 890.0,1704.6 891.0,1829.2 892.5,1784.9 894.3,1846.8 896.2,1765.8 897.7,1697.9 899.1,1758.4 900.9,1787.1 902.8,1697.2 904.3,1764.3 905.8,1745.1 908.0,1833.6 910.2,1739.2 912.4,1711.2 913.9,1739.2 915.3,1729.6 916.8,1748.1 918.3,1759.1 919.8,1774.6 921.0,1748.1 922.3,1818.1 923.5,1759.1 925.2,1756.9 926.7,1780.5 928.6,1804.8 929.8,1706.1 932.0,1785.7 934.1,1773.1 936.0,1755.4 937.5,1759.1 938.9,1734.8 940.4,1635.3 941.9,1730.4 944.1,1776.1 945.3,1823.3 946.3,1805.6 948.2,1846.1 951.5,1714.2 950.0,1709.4 951.8,1741.0 953.4,1706.0 955.0,1690.2 956.3,1833.7 957.2,1752.4 958.6,1784.0 960.2,1700.4 961.8,1713.9 963.1,1758.0 964.7,1741.0 967.0,1781.7 968.5,1786.3 970.8,1716.2 973.7,1810.0 975.3,1781.7 977.1,1732.0 978.9,1784.0 980.5,1719.6 982.8,1855.2 985.0,1701.5 986.6,1759.1 988.4,1796.4 990.2,1831.5 991.8,1746.7 994.1,1744.4 995.7,1732.0 997.5,1658.5 999.7,1687.9 1002.0,1769.3 1003.8,1698.1 1005.4,1738.8 1007.7,1642.7 1009.2,1661.9 1010.6,1758.0 1012.9,1697.0 1015.6,1691.3 1017.8,1755.7 1020.1,1632.5 1022.3,1711.7 1024.2,1772.7 1026.4,1665.3 1028.0,1698.1 1029.6,1658.5 1030.9,1745.6 1032.5,1682.3 1033.2,1752.4 1035.5,1678.9 1037.7,1718.4 1039.3,1690.2 1040.9,1742.2 1042.2,1664.2 1044.5,1716.2 1046.8,1694.7 1048.3,1658.5 1050.2,1611.0 1051.7,1700.4 1054.0,1698.1 1056.3,1668.7 1058.1,1570.4 1060.1,1622.4 1061.9,1502.5 1064.2,1579.4 1066.4,1499.1 1068.0,1555.7 1069.8,1504.8 1072.1,1611.0" fill="none" stroke="#505050" stroke-width="1.8" stroke-linejoin="round" stroke-linecap="round"/>
<polyline points="266.4,551.1 267.8,498.3 269.3,499.0 270.7,526.8 272.1,548.2 274.3,428.5 277.1,498.3 279.2,553.9 281.4,521.8 285.0,521.8 287.4,535.4 289.2,496.9 293.5,485.5 295.6,475.5 297.8,411.3 300.6,481.2 302.1,505.4 305.6,516.8 307.0,545.4 310.6,556.8 313.5,553.9 318.5,390.7 321.3,419.9 323.4,514.7 326.3,437.0 328.1,545.4 331.3,545.4 333.4,529.7 335.8,439.1 338.4,437.0 341.7,427.0 345.5,563.9 352.0,594.6 354.5,520.4 356.9,581.0 359.5,553.9 362.4,569.6 365.2,572.5 370.5,494.0 374.8,595.3 378.0,603.8 380.5,542.5 382.9,607.4 385.5,562.5 388.3,382.8 390.0,458.4 393.3,444.1 396.2,531.1 398.6,552.5 397.9,552.5 400.7,649.4 402.8,555.3 405.7,589.6 408.5,582.4 411.4,559.6 413.5,603.8 416.4,620.9 418.5,514.0 421.4,526.8 424.2,506.9 426.7,525.4 429.2,488.3 432.1,458.4 434.6,519.7 437.5,405.6 440.6,499.7 442.8,561.8 444.9,455.5 447.8,435.6 450.6,444.1 452.7,548.2 454.9,543.9 457.7,481.2 460.6,486.9 463.1,458.4 465.9,414.9 468.4,530.4 470.6,514.0 472.7,534.0 475.6,536.8 479.1,532.5 481.3,502.6 484.1,494.0 487.0,519.7 489.1,525.4 491.9,561.0 494.8,549.6 497.7,511.1 500.2,562.5 501.9,486.9 504.8,475.5 507.3,447.7 510.2,481.2 512.6,489.8 515.5,462.7 518.3,482.6 520.5,489.8 525.5,399.2 528.3,494.0 530.4,608.1 530.0,608.6 531.8,560.8 533.5,472.3 535.8,385.6 538.0,429.8 541.0,617.4 542.7,590.9 545.9,550.2 548.6,582.0 551.2,621.0 553.9,582.0 556.5,517.4 558.3,555.5 561.0,513.0 564.0,573.2 566.8,478.5 569.8,548.4 571.6,605.0 574.2,622.7 576.9,628.1 579.6,528.9 582.2,573.2 584.9,520.1 589.3,479.4 592.8,484.7 595.5,525.4 598.1,474.1 600.8,484.7 602.9,504.2 605.6,440.4 608.2,599.7 610.5,541.3 613.2,562.6 616.2,621.0 619.4,590.9 621.2,513.0 623.5,432.5 626.5,511.2 629.1,502.4 631.2,544.9 634.4,502.4 636.7,431.6 639.7,479.4 644.7,491.8 646.8,580.3 649.5,603.3 652.1,560.8 654.8,488.2 657.4,458.1 660.6,449.3 663.1,484.7 665.9,477.6 667.7,495.3 665.0,477.6 667.7,495.3 670.3,471.4 672.1,500.6 675.3,507.7 677.7,530.7 680.6,495.3 683.1,583.8 685.9,509.5 688.4,536.9 691.2,505.9 693.3,544.0 696.0,525.4 698.6,567.9 701.3,442.2 703.6,490.0 706.1,543.1 708.9,509.5 711.9,530.7 716.3,504.2 719.5,510.4 722.0,491.8 727.3,353.7 730.1,470.5 735.8,525.4 737.6,590.9 740.2,566.1 742.9,573.2 745.5,620.1 748.2,546.6 751.7,493.5 755.3,442.2 758.5,488.2 761.5,421.9 764.1,548.4 766.2,634.2 768.5,499.7 771.2,539.6 773.3,434.2 776.5,451.1 779.2,451.1 781.5,507.7 784.5,487.3 788.9,513.0 794.6,544.0 801.3,458.1 800.0,457.1 802.1,508.8 807.2,572.8 809.9,537.7 812.8,550.0 815.1,473.7 817.6,545.9 820.6,533.5 824.4,477.8 828.3,631.6 833.5,435.5 836.1,509.8 839.2,509.8 841.3,556.2 843.4,528.4 846.5,600.6 849.1,514.9 851.6,493.3 854.7,488.1 856.8,492.2 859.9,475.7 861.9,448.9 864.4,381.8 867.1,417.9 869.6,468.5 872.3,421.0 874.7,522.2 877.4,465.4 880.5,432.4 882.6,486.0 885.7,411.7 888.4,362.1 890.4,367.3 893.3,440.6 895.4,507.7 898.1,490.2 900.1,433.4 903.2,428.2 905.7,437.5 911.5,420.0 913.6,504.6 916.0,403.4 918.7,347.7 921.8,395.2 923.5,444.7 926.0,450.9 928.0,477.8 930.1,527.3 934.2,390.0 937.3,415.8 937.5,426.2 942.0,382.3 944.5,491.4 947.0,441.2 950.0,501.4 952.6,443.7 955.1,463.8 958.1,408.6 960.6,468.8 962.6,423.7 965.1,483.9 968.1,487.6 972.6,398.6 975.1,446.2 978.1,455.0 981.4,431.2 983.9,426.2 987.7,418.7 991.4,322.1 993.9,435.0 996.4,432.4 998.9,435.0 1001.5,409.9 1005.2,396.1 1007.7,358.5 1010.2,300.8 1014.7,337.1 1017.3,235.6 1020.3,184.2 1024.8,284.5 1030.3,180.4 1032.8,255.6 1037.8,187.9 1040.3,305.8 1043.3,323.4" fill="none" stroke="#505050" stroke-width="3.0" stroke-linejoin="round" stroke-linecap="round"/>
<polyline points="356.9,516.8 359.5,449.1 361.9,559.6 364.8,548.2 369.8,536.8 372.6,556.8 375.5,539.7 378.0,548.2 382.9,520.4 388.0,595.3 390.9,551.1 393.3,548.2 396.2,595.3 399.0,581.0 397.9,581.0 401.4,610.9 402.8,551.1 405.7,546.8 408.5,537.5 411.4,558.2 414.2,506.9 416.4,559.6 419.2,559.6 422.1,486.9 424.2,505.4 427.1,580.3 429.9,525.4 432.4,592.4 437.8,542.5 440.3,562.5 442.8,543.9 444.9,545.4 447.8,573.9 450.6,583.9 452.7,566.7 455.6,446.3 457.7,542.5 460.6,576.7 463.4,561.0 468.4,551.1 471.3,551.1 473.4,608.1 479.1,565.3 481.3,589.6 484.1,581.0 487.0,538.2 489.1,538.2 494.1,485.5 496.9,528.3 499.8,587.4 501.9,576.0 504.5,615.2 507.6,596.7 509.8,534.0 512.2,563.9 515.5,499.7 520.2,575.3 525.5,541.8 528.3,552.5 530.4,558.2 533.0,380.7 531.8,484.7 533.2,380.3 535.3,472.3 538.0,429.8 541.0,583.8 543.3,550.2 546.3,443.1 549.1,496.2 551.2,451.9 553.9,587.3 556.5,559.0 558.8,589.1 561.0,555.5 563.6,481.2 566.8,365.2 569.8,485.6 572.5,436.0 574.6,427.2 576.9,535.1 580.1,493.5 583.1,520.1 585.2,528.9 587.5,462.6 590.2,534.2 592.3,518.3 595.5,539.6 598.1,539.6 600.8,498.8 604.3,486.5 605.8,467.0 607.9,523.6 610.5,536.9 614.1,523.6 619.4,487.3 622.9,510.4 626.5,476.7 629.1,504.2 631.8,504.2 634.4,554.6 638.0,548.4 641.9,493.5 644.2,532.5 646.8,544.9 650.4,527.2 652.5,560.8 654.8,415.7 658.3,430.7 660.6,490.0 663.1,435.1 665.4,310.4 667.7,467.9 672.6,319.2 675.6,459.9 677.9,345.8 680.9,426.3 683.6,426.3 686.2,447.5 691.2,337.8 693.3,475.8 696.5,400.6 698.6,502.4 703.9,417.4 706.6,527.2 709.2,525.4 711.9,505.9 714.6,461.7 716.3,447.5 719.5,410.4 722.0,459.0 727.3,415.7 730.5,426.3 733.1,431.6 735.4,473.2 740.2,436.0 744.6,484.7 747.8,549.3 750.0,502.4 753.1,425.4 755.6,431.6 758.8,425.4 760.6,421.9 763.4,381.2 766.8,389.1 769.4,393.5 771.2,410.4 773.8,421.0 776.5,451.1 781.8,391.8 784.5,426.3 786.8,378.5 789.8,459.0 792.1,429.8 795.1,520.1 799.5,467.0 800.0,450.9 804.5,407.6 809.9,475.7 812.8,391.1 815.5,452.0 818.2,406.5 823.1,477.8 825.8,428.2 827.9,492.2 830.6,285.8 833.5,240.3 835.5,457.1 838.2,438.5 840.9,471.6 843.8,418.9 846.5,480.9 849.1,422.0 851.6,452.0 854.7,421.0 856.8,440.6 859.5,405.5 861.9,453.0 865.0,463.3 867.1,380.7 870.2,383.8 871.9,382.8 874.7,413.8 877.4,348.7 880.5,391.1 883.2,385.9 887.8,318.8 890.9,435.5 892.9,409.6 895.0,482.9 898.1,491.2 901.2,465.4 903.2,512.9 906.3,494.3 908.4,411.7 911.5,469.5 913.6,458.2 916.7,467.5 919.8,440.6 921.8,440.6 923.9,388.0 929.1,442.7 932.1,407.6 935.2,424.1 937.3,423.1 935.0,421.2 939.5,508.9 946.3,408.6 949.5,406.1 952.1,371.0 955.1,423.7 958.1,353.4 960.8,401.1 962.6,411.1 965.6,383.5 967.6,396.1 970.6,338.4 973.1,448.7 975.1,401.1 978.9,448.7 983.4,354.7 986.4,418.7 988.9,367.2 992.2,373.5 994.7,345.9 996.4,364.7 998.9,261.9 1001.5,315.8 1004.0,282.0 1007.2,318.3 1009.0,239.3 1011.5,418.7 1014.7,354.7 1019.8,386.1 1024.8,157.8 1027.8,229.3 1030.3,185.4 1034.1,229.3 1037.8,209.2 1040.3,246.9 1042.8,181.7 1047.9,228.1 1050.9,131.5 1053.4,150.3 1055.4,256.9 1058.4,255.6 1061.1,75.1 1064.2,150.3 1065.9,58.8 1070.4,137.8 1072.4,160.3 1074.9,156.6 1077.2,157.8 1079.2,251.9 1082.2,121.5 1085.0,150.3" fill="none" stroke="#ef3d3d" stroke-width="3.0" stroke-linejoin="round" stroke-linecap="round"/>
</svg></body></html>
